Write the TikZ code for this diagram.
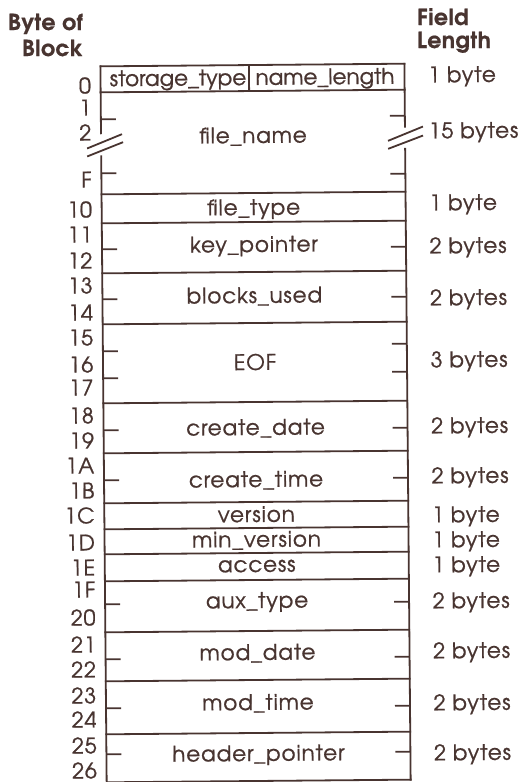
\documentclass[tikz,border=0pt]{standalone}
\usepackage{fontspec}
\setmainfont{texgyreadventor}[Extension=.otf, UprightFont=*-regular, BoldFont=*-bold, LetterSpace=4, FakeBold=0.8, BoldFeatures={FakeBold=0.6,LetterSpace=2}]
\definecolor{ink}{RGB}{72,52,48}
\begin{document}
\begin{tikzpicture}[x=1pt,y=-1pt,
  rule/.style={draw=ink,line width=1.8pt,line cap=rect},
  tick/.style={draw=ink,line width=1.8pt},
  lab/.style={text=ink,inner sep=0pt,font=\fontsize{21.5}{25}\selectfont},
  fld/.style={lab,anchor=base},
  tight/.style={fld,font=\fontsize{21.5}{25}\selectfont\addfontfeature{LetterSpace=0}},
  num/.style={lab,anchor=base east},
  len/.style={lab,anchor=base west},
  head/.style={lab,font=\fontsize{22}{26}\selectfont\bfseries}]
\useasboundingbox (0,0) rectangle (518,782);
\fill[white] (0,0) rectangle (518,782);
\begin{scope}[rotate around={0.5:(255,420)},transform shape]
\def\L{103.5}\def\R{407.5}
% outer sides with breaks
\draw[rule] (\L,65) -- (\L,132);
\draw[rule] (\L,155) -- (\L,781);
\draw[rule] (\R,65) -- (\R,128);
\draw[rule] (\R,150) -- (\R,781);
% horizontal rules
\foreach \y in {65,91,193,222,272,323,402,452,502,528,553,580,631,680,733,781}
  \draw[rule] (\L,\y) -- (\R,\y);
\draw[rule] (252,65) -- (252,91);
% break marks
\draw[tick] (89.5,147) -- (124.5,133);
\draw[tick] (89.5,155) -- (125.5,141);
\draw[tick] (390.5,142) -- (425.5,128);
\draw[tick] (390.5,150) -- (425.5,137);
% ticks
\foreach \y in {118,172,248,298,350,377,429,479,603,658,707,753}
  \draw[tick] (\L,\y) -- ++(15,0);
\foreach \y in {117,175,248,298,345,373,429,479,603,658,707,753}
  \draw[tick] (\R,\y) -- ++(-15,0);
% field names
\node[tight] (st) at (181,85) {storage\_type};
\node[tight] (nl) at (328,85) {name\_length};
\node[fld] (fn) at (255.5,143) {file\_name};
\node[fld] (ft) at (255.5,215) {file\_type};
\node[fld] (kp) at (255.5,252) {key\_pointer};
\node[fld] (bu) at (255.5,303) {blocks\_used};
\node[fld] (eof) at (255.5,370) {EOF};
\node[fld] (cd) at (255.5,435) {create\_date};
\node[fld] (ct) at (255.5,487) {create\_time};
\node[fld] (ve) at (255.5,522) {version};
\node[fld] (mv) at (255.5,547) {min\_version};
\node[fld] (ac) at (255.5,572) {access};
\node[fld] (at) at (255.5,608) {aux\_type};
\node[fld] (md) at (255.5,660) {mod\_date};
\node[fld] (mt) at (255.5,710) {mod\_time};
\node[fld] (hp) at (255.5,761) {header\_pointer};
% byte numbers
\foreach \t/\y [count=\i] in {0/92,1/114,2/139,F/186,10/216,11/241,12/267,13/292,14/319,15/344,16/371,17/394,18/422,19/447,1A/472,1B/497,1C/522,1D/549,1E/574,1F/596,20/624,21/651,22/676,23/702,24/726,25/752,26/777}
  \node[num] (n\i) at (94,\y) {\t};
% field lengths
\foreach \t/\y [count=\i] in {1 byte/84,15 bytes/140,1 byte/212,2 bytes/255,2 bytes/307,3 bytes/369,2 bytes/435,2 bytes/485,1 byte/524,1 byte/549,1 byte/574,2 bytes/610,2 bytes/660,2 bytes/712,2 bytes/762}
  \node[len] (l\i) at (431,\y) {\t};
\end{scope}
% headers
\node[head,anchor=base east] (h1) at (83,30) {Byte of};
\node[head,anchor=base east] (h2) at (83,56) {Block};
\node[head,anchor=base west] (h3) at (417,25) {Field};
\node[head,anchor=base west] (h4) at (417,48) {Length};
\end{tikzpicture}
\end{document}
